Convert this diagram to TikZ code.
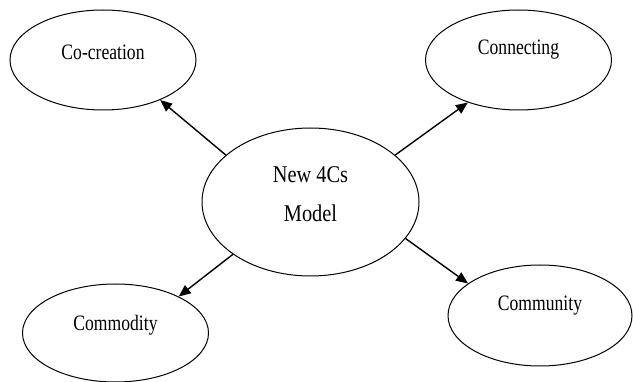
\documentclass[tikz,border=0pt]{standalone}
\usepackage{fontspec}
\setmainfont{Liberation Serif}
\newfontfamily\narrowserif[FakeStretch=0.8]{Liberation Serif}
\newfontfamily\hubserif[FakeStretch=0.85]{Liberation Serif}
\usetikzlibrary{shapes.geometric,arrows.meta}
\begin{document}
\begin{tikzpicture}[x=1pt,y=-1pt,
  bubble/.style={draw, ellipse, line width=1pt, inner sep=0pt},
  outer/.style={bubble, minimum width=186pt, minimum height=100pt},
  tag/.style={font=\narrowserif\fontsize{22}{26}\selectfont},
  link/.style={line width=1.4pt, -{Triangle[length=12pt,width=10pt]}}]
\useasboundingbox (0,0) rectangle (633,382);

% central model
\node[bubble, minimum width=217pt, minimum height=148pt,
  label={[font=\hubserif\fontsize{24}{39}\selectfont, align=center, yshift=7.5pt]center:{New 4Cs\\Model}}]
  (hub) at (310.5,202) {};

% the four Cs
\node[outer, label={[tag, yshift=8pt]center:Co-creation}] (cocreation) at (103,60) {};
\node[outer, label={[tag, yshift=10pt]center:Connecting}] (connecting) at (518.5,60) {};
\node[outer, minimum height=98pt, label={[tag, yshift=8pt]center:Commodity}] (commodity) at (115.5,333) {};
\node[outer, minimum width=184pt, minimum height=101pt, label={[tag, yshift=9.5pt]center:Community}] (community) at (540,315.5) {};

% arrows out of the hub
\draw[link] (hub.151) -- (cocreation.-35);
\draw[link] (hub.29) -- (connecting.220);
\draw[link] (hub.214) -- (commodity.30);
\draw[link] (hub.-21) -- (community.156);
\end{tikzpicture}
\end{document}
